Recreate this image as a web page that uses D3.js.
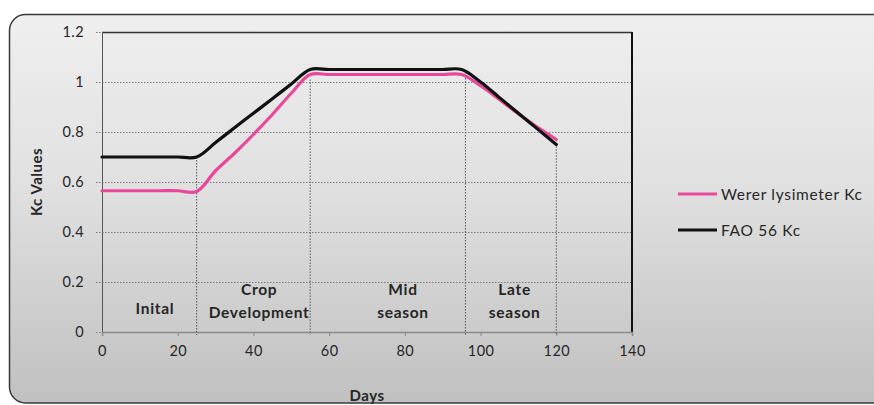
<!DOCTYPE html>
<html>
<head>
<meta charset="utf-8">
<script src="https://cdn.jsdelivr.net/npm/d3@7"></script>
<style>
  html, body { margin: 0; padding: 0; background: #ffffff; }
  svg { display: block; }
  text { font-family: Lato, "Open Sans", sans-serif; fill: #262626; }
</style>
</head>
<body>
<svg id="chart" width="874" height="405"></svg>
<script>
// Crop coefficient (Kc) over the growing season
const days = [0, 5, 10, 15, 20, 25, 30, 35, 40, 45, 50, 55, 60, 65, 70, 75, 80, 85, 90, 95, 100, 105, 110, 115, 120];
const wererKc = [0.565, 0.565, 0.565, 0.565, 0.565, 0.562, 0.645, 0.715, 0.79, 0.87, 0.955, 1.03, 1.03, 1.03, 1.03, 1.03, 1.03, 1.03, 1.03, 1.03, 0.985, 0.93, 0.872, 0.82, 0.77];
const faoKc   = [0.70, 0.70, 0.70, 0.70, 0.70, 0.70, 0.758, 0.817, 0.875, 0.933, 0.992, 1.05, 1.05, 1.05, 1.05, 1.05, 1.05, 1.05, 1.05, 1.05, 1.0, 0.9375, 0.875, 0.8125, 0.75];

const seriesNames = ["Werer lysimeter Kc", "FAO 56 Kc"];
const seriesColors = ["#e9489a", "#111111"];

// Growth stage boundaries (day, Kc where the marker line starts)
const stageDays = [25, 55, 96, 120];
const stageTops = [0.70, 1.01, 1.04, 0.755];
const stageLabels = [["Inital"], ["Crop", "Development"], ["Mid", "season"], ["Late", "season"]];
const stageCenters = [14, 41.5, 79.5, 109];

const xTicks = [0, 20, 40, 60, 80, 100, 120, 140];
const yTicks = [0, 0.2, 0.4, 0.6, 0.8, 1, 1.2];

const svg = d3.select("#chart");

// background panel with vertical grey gradient
const defs = svg.append("defs");
const grad = defs.append("linearGradient").attr("id", "bg").attr("x1", 0).attr("y1", 0).attr("x2", 0).attr("y2", 1);
grad.append("stop").attr("offset", "0%").attr("stop-color", "#efefef");
grad.append("stop").attr("offset", "45%").attr("stop-color", "#e0e0e0");
grad.append("stop").attr("offset", "100%").attr("stop-color", "#c0c0c0");

svg.append("rect")
  .attr("x", 9.5).attr("y", 14.5).attr("width", 900).attr("height", 388.5)
  .attr("rx", 16).attr("ry", 16)
  .attr("fill", "url(#bg)").attr("stroke", "#3a3a3a").attr("stroke-width", 1.5);

const x = d3.scaleLinear().domain([0, 140]).range([102, 632]);
const y = d3.scaleLinear().domain([0, 1.2]).range([332, 32]);

// horizontal dotted gridlines (extend left of the axis as tick marks)
svg.append("g").selectAll("line").data(yTicks).join("line")
  .attr("x1", 96).attr("x2", x(140))
  .attr("y1", d => Math.round(y(d)) + 0.5).attr("y2", d => Math.round(y(d)) + 0.5)
  .attr("stroke", "#7a7a7a").attr("stroke-width", 1).attr("stroke-dasharray", "1.5,1.5");

// plot frame
svg.append("line").attr("x1", x(0)).attr("x2", x(140)).attr("y1", 32.5).attr("y2", 32.5)
  .attr("stroke", "#333").attr("stroke-width", 1.5);
svg.append("line").attr("x1", x(140)).attr("x2", x(140)).attr("y1", 32).attr("y2", 332)
  .attr("stroke", "#111").attr("stroke-width", 2);
svg.append("line").attr("x1", x(0) + 0.5).attr("x2", x(0) + 0.5).attr("y1", 32).attr("y2", 332)
  .attr("stroke", "#555").attr("stroke-width", 1);

// x axis
const xAxis = d3.axisBottom(x).tickValues(xTicks).tickSize(4).tickPadding(10).tickFormat(d3.format("d"));
const gx = svg.append("g").attr("transform", "translate(0,332)").call(xAxis);
gx.select(".domain").attr("stroke", "#8a8a8a").attr("stroke-width", 1.5);
gx.selectAll(".tick line").attr("stroke", "#8a8a8a");
gx.selectAll(".tick text").attr("font-size", 14.5).attr("fill", "#333")
  .style("font-family", "Lato, sans-serif").style("letter-spacing", "0.4px");

// y axis labels
const yAxis = d3.axisLeft(y).tickValues(yTicks).tickSize(0).tickPadding(18).tickFormat(d => d3.format("")(+d.toFixed(1)));
const gy = svg.append("g").attr("transform", "translate(102,0)").call(yAxis);
gy.select(".domain").remove();
gy.selectAll(".tick text").attr("font-size", 14.5).attr("fill", "#333")
  .style("font-family", "Lato, sans-serif").style("letter-spacing", "0.4px");

// stage boundary markers
svg.append("g").selectAll("line").data(stageDays).join("line")
  .attr("x1", d => x(d)).attr("x2", d => x(d))
  .attr("y1", (d, i) => y(stageTops[i])).attr("y2", 335)
  .attr("stroke", "#555").attr("stroke-width", 1).attr("stroke-dasharray", "1.5,1.5");

// stage labels
const stageG = svg.append("g");
stageLabels.forEach((lines, i) => {
  const t = stageG.append("text")
    .attr("x", x(stageCenters[i]))
    .attr("text-anchor", "middle").attr("font-weight", "bold").attr("font-size", 15.5)
    .style("letter-spacing", "0.7px")
    .attr("fill", "#2b2b2b");
  const base = lines.length === 1 ? 314 : 295;
  lines.forEach((s, j) => {
    t.append("tspan").attr("x", x(stageCenters[i])).attr("y", base + j * 23).text(s);
  });
});

// series lines
const line = d3.line().x(d => x(d[0])).y(d => y(d[1])).curve(d3.curveCatmullRom.alpha(0.5));
const series = [wererKc, faoKc];
series.forEach((vals, i) => {
  svg.append("path")
    .datum(days.map((d, k) => [d, vals[k]]))
    .attr("fill", "none").attr("stroke", seriesColors[i]).attr("stroke-width", 3.2)
    .attr("stroke-linejoin", "round").attr("stroke-linecap", "round")
    .attr("d", line);
});

// axis titles
svg.append("text").attr("transform", "translate(42,182) rotate(-90)")
  .attr("text-anchor", "middle").attr("font-weight", "bold").attr("font-size", 15)
  .style("letter-spacing", "0.5px").text("Kc Values");
svg.append("text").attr("x", 367).attr("y", 401)
  .attr("text-anchor", "middle").attr("font-weight", "bold").attr("font-size", 15)
  .style("letter-spacing", "0.5px").text("Days");

// legend
const legend = svg.append("g");
seriesNames.forEach((name, i) => {
  const ly = 194 + i * 36;
  legend.append("line").attr("x1", 678).attr("x2", 717).attr("y1", ly).attr("y2", ly)
    .attr("stroke", seriesColors[i]).attr("stroke-width", 3);
  legend.append("text").attr("x", 721).attr("y", ly + 5.5)
    .attr("font-size", 15.5).attr("fill", "#333").style("letter-spacing", "0.7px").text(name);
});
</script>
</body>
</html>
